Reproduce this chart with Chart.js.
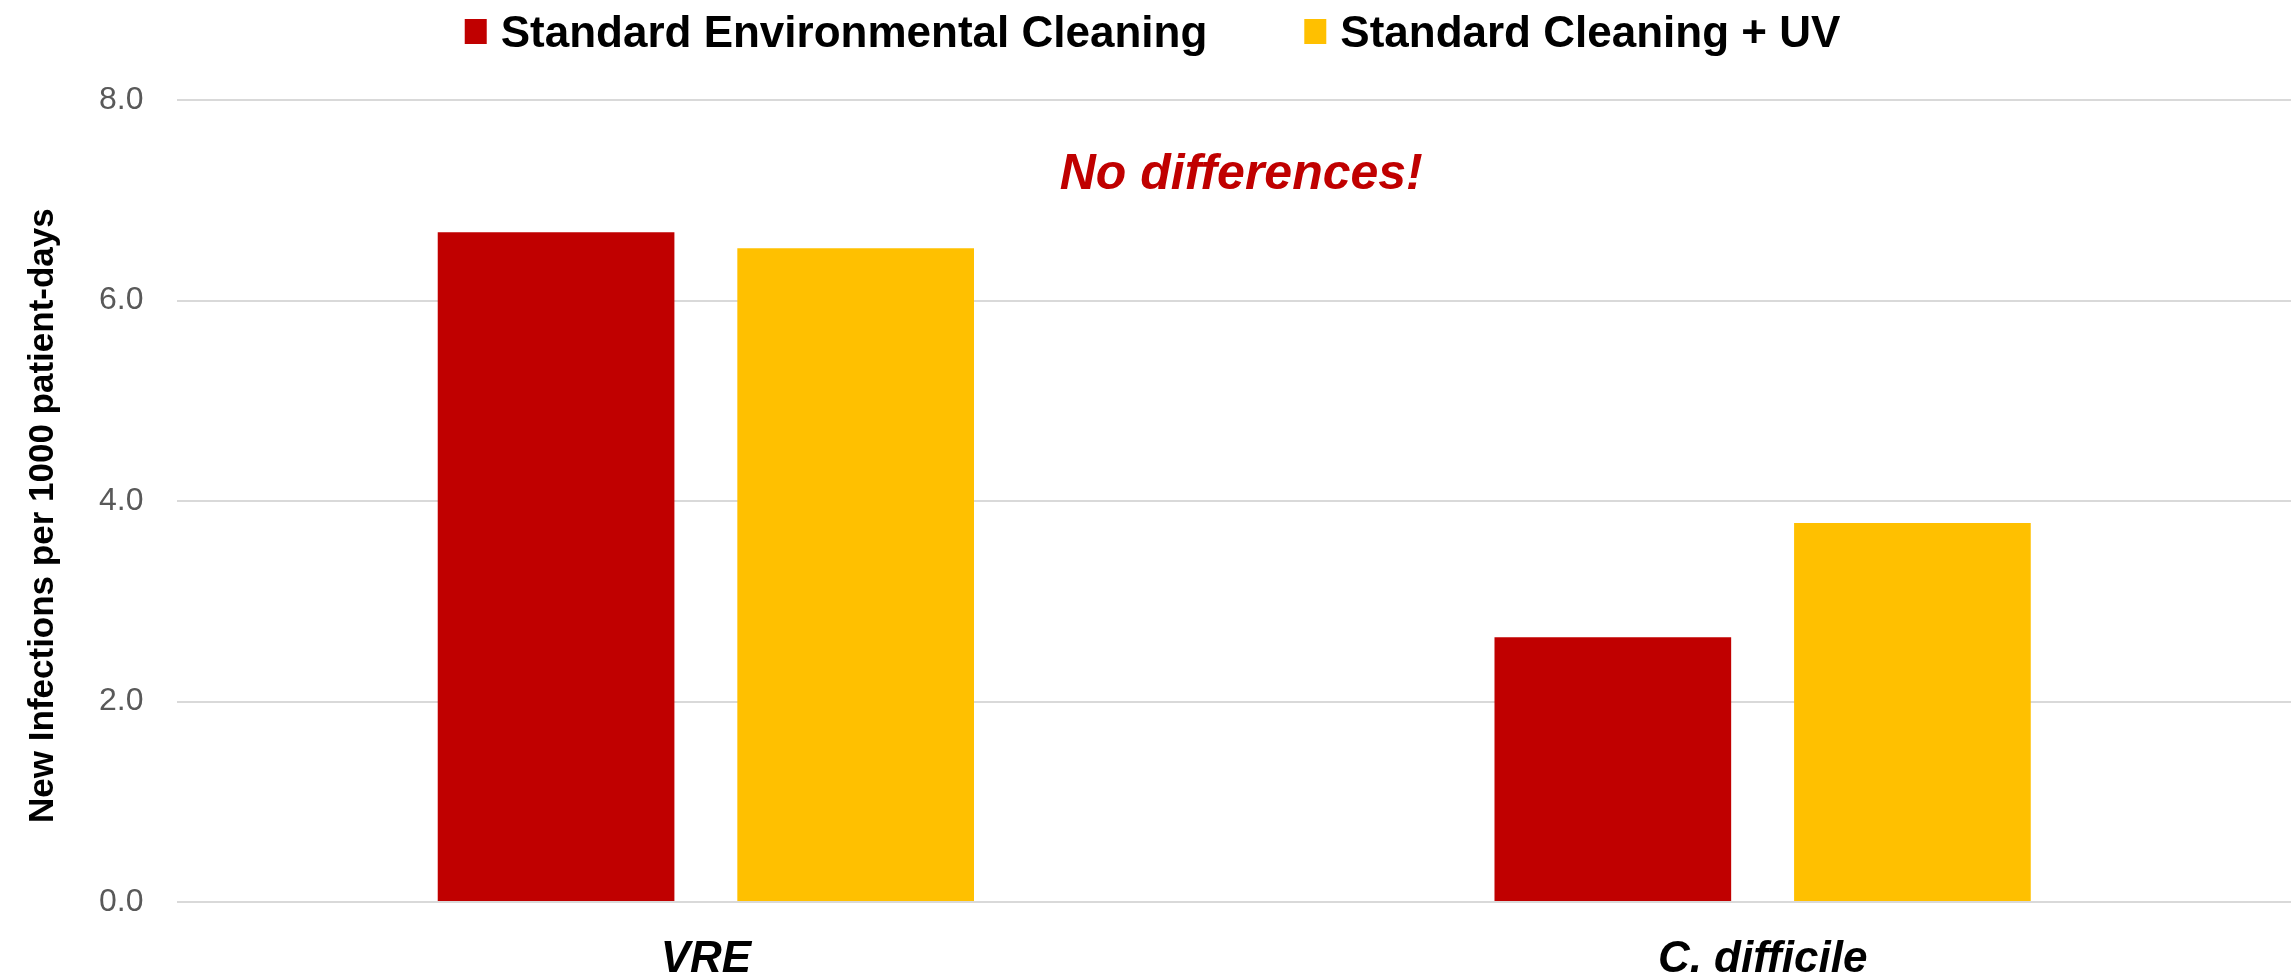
<!DOCTYPE html>
<html>
<head>
<meta charset="utf-8">
<script src="https://cdn.jsdelivr.net/npm/chart.js@4"></script>
<style>
  html, body { margin: 0; padding: 0; background: #fff; }
  #wrap { width: 2295px; height: 973px; }
</style>
</head>
<body>
<div id="wrap"><canvas id="chart"></canvas></div>
<script>
// chart data
var categories = ["VRE", "C. difficile"];
var seriesNames = ["Standard Environmental Cleaning", "Standard Cleaning + UV"];
var standardValues = [6.68, 2.64];
var uvValues = [6.52, 3.78];
var seriesColors = ["#C00000", "#FFC000"];
var yTicks = [0, 2, 4, 6, 8];
var yTitle = "New Infections per 1000 patient-days";
var noteText = "No differences!";
var noteValue = 7.11;

var FONT = "'Liberation Sans', Arial, sans-serif";

// legend drawn by hand so the spacing matches the slide
var topLegend = {
  id: "topLegend",
  afterDraw: function(chart) {
    var ctx = chart.ctx;
    ctx.save();
    ctx.font = "bold 44px " + FONT;
    var boxW = 22, boxH = 25, gap = 14, itemGap = 97;
    var total = 0;
    for (var i = 0; i < seriesNames.length; i++) {
      total += boxW + gap + ctx.measureText(seriesNames[i]).width;
      if (i > 0) total += itemGap;
    }
    var x = chart.width / 2 - total / 2 + 5;
    for (var i = 0; i < seriesNames.length; i++) {
      ctx.fillStyle = seriesColors[i];
      ctx.fillRect(x, 19, boxW, boxH);
      ctx.fillStyle = "#000";
      ctx.textBaseline = "alphabetic";
      ctx.textAlign = "left";
      ctx.fillText(seriesNames[i], x + boxW + gap, 47);
      x += boxW + gap + ctx.measureText(seriesNames[i]).width + itemGap;
    }

    // annotation
    var area = chart.chartArea;
    ctx.font = "italic bold 50px " + FONT;
    ctx.fillStyle = "#C00000";
    ctx.textAlign = "center";
    ctx.fillText(noteText, (area.left + area.right) / 2 + 7, chart.scales.y.getPixelForValue(noteValue));
    ctx.restore();
  }
};

var ctx = document.getElementById("chart").getContext("2d");
new Chart(ctx, {
  type: "bar",
  data: {
    labels: categories,
    datasets: [{
      label: seriesNames[0],
      data: standardValues,
      backgroundColor: seriesColors[0]
    }, {
      label: seriesNames[1],
      data: uvValues,
      backgroundColor: seriesColors[1]
    }]
  },
  options: {
    responsive: true,
    maintainAspectRatio: false,
    animation: false,
    layout: { padding: { top: 100, right: 4, left: 0, bottom: -45 } },
    datasets: { bar: { categoryPercentage: 0.567, barPercentage: 0.79 } },
    plugins: {
      legend: { display: false },
      tooltip: { enabled: false }
    },
    scales: {
      x: {
        grid: { display: false, drawTicks: false },
        border: { display: false },
        ticks: {
          color: "#000",
          padding: 36,
          font: { family: FONT, size: 44, weight: "bold", style: "italic", lineHeight: 1 }
        }
      },
      y: {
        min: 0,
        max: 8,
        afterBuildTicks: function(axis) {
          axis.ticks = yTicks.map(function(v) { return { value: v }; });
        },
        grid: { color: "#d9d9d9", lineWidth: 2, drawTicks: false },
        border: { display: false },
        ticks: {
          color: "#595959",
          padding: 34,
          font: { family: FONT, size: 32 },
          callback: function(v) { return Number(v).toFixed(1); }
        },
        title: {
          display: true,
          text: yTitle + "   ",
          color: "#000",
          padding: { top: 22, bottom: 1 },
          font: { family: FONT, size: 35, weight: "bold" }
        }
      }
    }
  },
  plugins: [topLegend]
});
</script>
</body>
</html>
